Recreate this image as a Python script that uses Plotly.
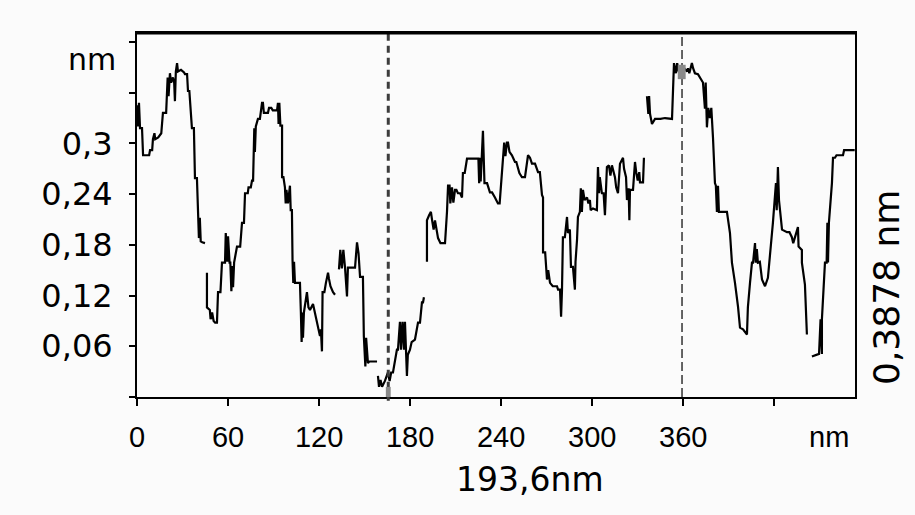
import plotly.graph_objects as go

# Height profile (x in nm, height in nm); None marks a break in the trace
x_nm = [0.0, 0.7, 1.3, 2.0, 3.3, 4.0, 8.0, 8.6, 10.0, 10.5, 11.5, 12.0, 14.0, 16.0, 16.5, 17.1,
        19.2, 19.8, 20.2, 20.8, 21.7, 22.5, 23.7, 24.5, 25.0, 25.6, 26.4, 27.0, 29.0, 31.0, 31.6,
        33.0, 33.6, 34.5, 35.5, 36.2, 37.5, 38.2, 39.5, 40.2, 40.8, 41.4, 42.0, 43.0, 44.8, None,
        46.1, 46.1, 48.0, 48.5, 49.5, 50.5, 51.5, 52.7, 53.4, 55.0, 56.0, 58.0, 58.5, 59.5, 60.0,
        61.0, 61.5, 62.2, 62.8, 63.3, 64.0, 65.9, 68.0, 69.2, 70.5, 71.2, 73.0, 73.5, 75.0, 75.8,
        76.5, 77.1, 77.3, 77.7, 78.3, 79.7, 81.0, 82.4, 83.0, 83.6, 86.3, 87.0, 88.5, 89.5, 92.3,
        92.9, 93.3, 93.8, 94.5, 95.6, 95.6, 96.5, 97.5, 98.0, 98.5, 99.5, 100.8, 101.3, 102.1, 102.5,
        103.0, 103.5, 104.1, 105.0, 107.4, 108.0, 108.5, 109.0, 109.4, 110.0, 110.5, 112.0, 113.0,
        114.0, 116.0, 117.3, 118.5, 119.5, 120.6, 121.2, 121.9, 122.3, 123.5, 124.5, 125.9, 126.5,
        127.5, 129.2, 130.5, None,
        133.1, 134.0, 135.0, 136.0, 137.1, 138.4, 139.0, 143.7, 145.0, 146.0, 147.0, 148.9, 149.5,
        150.5, 151.0, 152.2, 153.0, 158.2, None,
        158.8, 159.5, 160.5, 161.5, 163.4, 165.4, 166.5, 167.5, 168.7, 171.3, 172.0, 173.3, 174.0,
        175.0, 176.0, 176.6, 177.9, 178.5, 179.9, 181.0, 183.2, 185.2, 186.5, 187.8, 188.5, 189.1, None,
        191.1, 191.1, 192.5, 193.7, 194.5, 195.5, 196.4, 197.5, 198.4, 200.0, 203.0, 204.3, 205.0,
        206.0, 206.5, 207.6, 208.5, 209.6, 210.5, 211.5, 213.0, 214.2, 214.8, 216.0, 217.5, 220.8,
        225.0, 225.5, 226.0, 226.5, 228.0, 229.0, 230.7, 232.6, 234.0, 235.9,
        237.2, 237.9, 239.0, 240.5, 241.2, 242.0, 242.8, 243.8, 244.5, 245.5, 247.1, 249.1, 250.0,
        251.1, 252.0, 253.7, 255.7, 257.7, 259.0, 260.3, 262.3, 264.3, 265.5, 266.9, 267.6, 267.6,
        269.0, 270.2, 271.0, 272.2, 274.0, 276.8, 277.5, 278.8, 279.5, 280.1, 280.7, 282.0, 283.4,
        284.0, 285.3, 286.0, 287.3, 288.6, 289.0, 290.0, 290.6, 291.9, 292.5, 293.2, 293.9, 295.0,
        296.6, 297.5, 298.5, 299.0, 300.5, 303.1, 303.8, 304.5, 305.0, 306.4, 307.5, 308.4, 309.7,
        311.0, 312.0, 313.0, 315.0, 315.8, 317.0, 318.3, 320.3, 321.0, 322.3, 322.9, 324.0, 324.5,
        324.9, 326.9, 328.2, 329.0, 330.0, 331.0, 331.5, 333.5, 334.1, None,
        336.1, 337.0, 337.5, 338.1, 339.4, 341.4, 345.0, 348.0, 352.6, 353.2, 353.9,
        355.2, 356.0, 357.0, 360.0, 362.5, 363.1, 364.0, 365.7, 366.5, 367.7, 369.7, 372.3, 373.0,
        374.3, 374.8, 375.6, 376.5, 377.6, 378.5, 379.6, 380.9, 381.5, 382.2, 382.9, 383.5, 386.2,
        388.8, 390.8, 392.1, 394.1, 395.4, 396.1, 397.4, 399.4, 402.0, 402.6, 404.0, 405.3, 406.0,
        407.3, 407.8, 408.5, 409.2, 410.5, 411.9, 413.9, 415.8, 417.1, 419.1, 421.1, 421.6, 422.4,
        423.1, 425.1, 428.4, 430.0, 431.6, 432.5, 433.6, 435.6, 436.0, 438.2, 438.2, 440.2, 441.5, None,
        444.8, 448.8, 449.5, 450.5, 451.4, 451.4, 453.4, 454.5, 455.0, 455.4, 456.0, 458.0, 458.7,
        460.0, 461.0, 465.3, 466.0, 471.8, 473.0]

height_nm = [0.345, 0.320, 0.348, 0.318, 0.318, 0.286, 0.286, 0.292, 0.292, 0.305, 0.312, 0.305, 0.307, 0.312, 0.323, 0.336,
             0.336, 0.360, 0.378, 0.356, 0.383, 0.372, 0.378, 0.372, 0.350, 0.385, 0.395, 0.385, 0.387, 0.384, 0.382,
             0.382, 0.362, 0.362, 0.330, 0.318, 0.318, 0.259, 0.259, 0.212, 0.188, 0.212, 0.184, 0.183, 0.182, None,
             0.147, 0.106, 0.103, 0.092, 0.100, 0.090, 0.088, 0.088, 0.124, 0.124, 0.159, 0.159, 0.194, 0.160, 0.190,
             0.159, 0.159, 0.125, 0.155, 0.130, 0.159, 0.178, 0.178, 0.206, 0.206, 0.241, 0.241, 0.248, 0.248, 0.256,
             0.256, 0.286, 0.318, 0.290, 0.320, 0.329, 0.329, 0.348, 0.348, 0.336, 0.336, 0.342, 0.342, 0.339, 0.339,
             0.348, 0.323, 0.348, 0.321, 0.321, 0.260, 0.260, 0.248, 0.229, 0.245, 0.229, 0.250, 0.221, 0.221, 0.162,
             0.135, 0.160, 0.135, 0.135, 0.135, 0.100, 0.065, 0.100, 0.070, 0.100, 0.105, 0.124, 0.106,
             0.103, 0.110, 0.100, 0.092, 0.082, 0.072, 0.080, 0.054, 0.124, 0.124, 0.135, 0.147, 0.140,
             0.131, 0.124, 0.121, None,
             0.151, 0.174, 0.152, 0.174, 0.153, 0.119, 0.153, 0.153, 0.183, 0.170, 0.142, 0.142, 0.072,
             0.036, 0.070, 0.040, 0.042, 0.042, None,
             0.025, 0.012, 0.020, 0.012, 0.019, 0.029, 0.019, 0.029, 0.029, 0.056, 0.056, 0.089, 0.056,
             0.089, 0.056, 0.089, 0.025, 0.050, 0.056, 0.065, 0.068, 0.088, 0.088, 0.112, 0.112, 0.118, None,
             0.160, 0.209, 0.215, 0.219, 0.209, 0.198, 0.209, 0.198, 0.188, 0.182, 0.182, 0.219, 0.250,
             0.250, 0.229, 0.248, 0.230, 0.245, 0.245, 0.241, 0.241, 0.236, 0.265, 0.265, 0.282, 0.282,
             0.282, 0.253, 0.283, 0.255, 0.315, 0.253, 0.253, 0.242, 0.242, 0.236,
             0.231, 0.229, 0.229, 0.265, 0.283, 0.301, 0.285, 0.301, 0.301, 0.290, 0.286, 0.278, 0.278,
             0.272, 0.265, 0.260, 0.260, 0.286, 0.283, 0.276, 0.276, 0.266, 0.266, 0.239, 0.236, 0.171,
             0.171, 0.139, 0.150, 0.135, 0.131, 0.131, 0.127, 0.127, 0.095, 0.127, 0.189, 0.189, 0.213,
             0.194, 0.198, 0.154, 0.154, 0.127, 0.160, 0.186, 0.213, 0.219, 0.247, 0.219, 0.245, 0.233,
             0.236, 0.229, 0.233, 0.221, 0.223, 0.221, 0.272, 0.241, 0.260, 0.241, 0.241, 0.215, 0.272,
             0.274, 0.262, 0.274, 0.260, 0.248, 0.241, 0.276, 0.283, 0.270, 0.260, 0.233, 0.247, 0.209,
             0.245, 0.245, 0.278, 0.266, 0.256, 0.266, 0.254, 0.254, 0.283, None,
             0.356, 0.335, 0.356, 0.335, 0.323, 0.329, 0.329, 0.330, 0.329, 0.360, 0.395,
             0.383, 0.395, 0.385, 0.390, 0.385, 0.389, 0.383, 0.395, 0.389, 0.383, 0.382, 0.374, 0.372,
             0.341, 0.372, 0.319, 0.342, 0.330, 0.342, 0.307, 0.253, 0.250, 0.219, 0.250, 0.219, 0.219,
             0.219, 0.194, 0.159, 0.135, 0.119, 0.107, 0.082, 0.080, 0.074, 0.106, 0.135, 0.159, 0.159,
             0.182, 0.159, 0.175, 0.159, 0.160, 0.139, 0.131, 0.141, 0.166, 0.206, 0.253, 0.221, 0.272,
             0.233, 0.198, 0.195, 0.195, 0.189, 0.182, 0.189, 0.201, 0.178, 0.174, 0.159, 0.133, 0.074, None,
             0.048, 0.051, 0.051, 0.092, 0.051, 0.092, 0.159, 0.159, 0.206, 0.159, 0.206, 0.253, 0.283,
             0.283, 0.286, 0.286, 0.292, 0.292, 0.292]

x_tick_vals = [0, 60, 120, 180, 240, 300, 360, 420]
x_tick_text = ["0", "60", "120", "180", "240", "300", "360", ""]
y_tick_vals = [0, 0.06, 0.12, 0.18, 0.24, 0.30, 0.36, 0.42]
y_tick_text = ["", "0,06", "0,12", "0,18", "0,24", "0,3", "", ""]

cursor_a = 165.6
cursor_b = 359.2
x_max = 473.2
y_max = 0.4306

BG = "#fbfbfb"

fig = go.Figure()
fig.add_trace(go.Scatter(x=x_nm, y=height_nm, mode="lines",
                         line=dict(color="black", width=2.2),
                         connectgaps=False, hoverinfo="skip", showlegend=False))

# cursor lines
fig.add_shape(type="line", xref="x", yref="paper", x0=cursor_a, x1=cursor_a, y0=-0.01, y1=1,
              line=dict(color="#3c3c3c", width=3, dash="7px,5px"), layer="above")
fig.add_shape(type="line", xref="x", yref="paper", x0=cursor_b, x1=cursor_b, y0=0, y1=1,
              line=dict(color="#333333", width=1.5, dash="9px,4px"), layer="above")
# cursor markers
fig.add_shape(type="rect", xref="x", yref="y", x0=cursor_a - 1.6, x1=cursor_a + 1.6, y0=-0.008, y1=0.012,
              line=dict(width=0), fillcolor="#8a8a8a", layer="above")
fig.add_shape(type="rect", xref="x", yref="y", x0=cursor_b - 2.8, x1=cursor_b + 2.4, y0=0.376, y1=0.393,
              line=dict(width=0), fillcolor="#8a8a8a", layer="above")
# thicker top border
fig.add_shape(type="line", xref="paper", yref="paper", x0=0, x1=1, y0=1, y1=1,
              line=dict(color="black", width=3), layer="above")

fig.update_xaxes(range=[0, x_max], tickmode="array", tickvals=x_tick_vals, ticktext=x_tick_text,
                 ticks="outside", ticklen=7, tickwidth=2, tickcolor="black",
                 showline=True, linecolor="black", linewidth=2, mirror=True,
                 showgrid=False, zeroline=False, ticklabelstandoff=6,
                 tickfont=dict(family="Liberation Sans, Arial, sans-serif", size=29, color="black"))
fig.update_yaxes(range=[0, y_max], tickmode="array", tickvals=y_tick_vals, ticktext=y_tick_text,
                 ticks="outside", ticklen=6, tickwidth=2, tickcolor="black",
                 showline=True, linecolor="black", linewidth=2, mirror=True,
                 showgrid=False, zeroline=False, ticklabelstandoff=10,
                 tickfont=dict(family="DejaVu Sans, sans-serif", size=32, color="black"))

annotations = [
    dict(text="nm", xref="paper", yref="paper", x=-0.0627, y=0.926, showarrow=False,
         xanchor="center", yanchor="middle", font=dict(family="DejaVu Sans", size=30, color="black")),
    dict(text="nm", xref="paper", yref="paper", x=0.9638, y=-0.11, showarrow=False,
         xanchor="center", yanchor="middle", font=dict(family="Liberation Sans", size=29, color="black")),
    dict(text="193,6nm", xref="paper", yref="paper", x=0.547, y=-0.228, showarrow=False,
         xanchor="center", yanchor="middle", font=dict(family="DejaVu Sans", size=33, color="black")),
    dict(text="0,3878 nm", xref="paper", yref="paper", x=1.0446, y=0.2995, showarrow=False,
         textangle=-90, xanchor="center", yanchor="middle",
         font=dict(family="DejaVu Sans", size=36, color="black")),
]

fig.update_layout(width=915, height=515, margin=dict(l=137, r=60, t=33, b=118),
                  paper_bgcolor=BG, plot_bgcolor=BG, annotations=annotations,
                  showlegend=False)

fig.write_html("out.html", config={"displayModeBar": False},
               post_script="document.body.style.margin='0';document.body.style.background='#fbfbfb';")
